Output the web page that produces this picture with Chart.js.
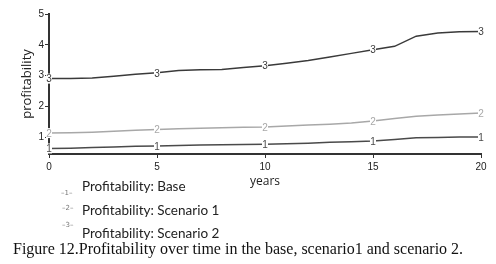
<!DOCTYPE html>
<html>
<head>
<meta charset="utf-8">
<script src="https://cdn.jsdelivr.net/npm/chart.js@4/dist/chart.umd.min.js"></script>
<style>
    body { margin: 0; background: #fff; }
    #wrap { position: relative; width: 496px; height: 264px; overflow: hidden; }
    #chartBox { position: absolute; left: 0; top: 0; width: 496px; height: 190px; }
    .leg { position: absolute; left: 82px; font: 13.5px Lato, sans-serif; color: #222; white-space: nowrap; }
    .sample { position: absolute; font: 7px "DejaVu Sans", sans-serif; color: #777; white-space: nowrap; }
    #caption { position: absolute; left: 13px; top: 240px; font: 16px "Liberation Serif", serif; color: #111; white-space: nowrap; line-height: 18px; }
</style>
</head>
<body>
<div id="wrap">
    <div id="chartBox"><canvas id="profitChart" width="496" height="190"></canvas></div>
    <div class="sample" style="left:61px; top:189px;">–1–</div>
    <div class="leg" style="top:178px;">Profitability: Base</div>
    <div class="sample" style="left:62px; top:204px;">–2–</div>
    <div class="leg" style="top:202px;">Profitability: Scenario 1</div>
    <div class="sample" style="left:62px; top:221px;">–3–</div>
    <div class="leg" style="top:225px;">Profitability: Scenario 2</div>
    <div id="caption">Figure 12.Profitability over time in the base, scenario1 and scenario 2.</div>
</div>
<script>
const years = [0, 1, 2, 3, 4, 5, 6, 7, 8, 9, 10, 11, 12, 13, 14, 15, 16, 17, 18, 19, 20];
const base = [0.63, 0.64, 0.66, 0.68, 0.70, 0.71, 0.73, 0.74, 0.75, 0.76, 0.77, 0.78, 0.80, 0.83, 0.85, 0.87, 0.92, 0.98, 0.99, 1.00, 1.00];
const scenario1 = [1.13, 1.14, 1.16, 1.19, 1.22, 1.25, 1.27, 1.29, 1.30, 1.32, 1.33, 1.36, 1.39, 1.42, 1.46, 1.52, 1.60, 1.68, 1.72, 1.75, 1.78];
const scenario2 = [2.90, 2.90, 2.92, 2.98, 3.04, 3.09, 3.16, 3.19, 3.20, 3.26, 3.32, 3.40, 3.49, 3.60, 3.72, 3.84, 3.95, 4.28, 4.38, 4.42, 4.43];
const seriesNames = ["Profitability: Base", "Profitability: Scenario 1", "Profitability: Scenario 2"];
const seriesMarks = ["1", "2", "3"];
const xTicks = [0, 5, 10, 15, 20];
const yTicks = [1, 2, 3, 4, 5];

function toPoints(values) {
    return years.map((y, i) => ({ x: y, y: values[i] }));
}

// draws the little "1", "2", "3" markers on each line every 5 years
const lineMarks = {
    id: "lineMarks",
    afterDatasetsDraw(chart) {
        const ctx = chart.ctx;
        ctx.save();
        ctx.font = "10px 'Liberation Sans', Arial, sans-serif";
        ctx.textAlign = "center";
        ctx.textBaseline = "middle";
        chart.data.datasets.forEach((ds, di) => {
            const meta = chart.getDatasetMeta(di);
            meta.data.forEach((pt, i) => {
                if (!xTicks.includes(years[i])) return;
                const w = 6;
                ctx.fillStyle = "#fff";
                ctx.fillRect(pt.x - w / 2, pt.y - 5, w, 10);
                ctx.fillStyle = ds.borderColor;
                ctx.fillText(seriesMarks[di], pt.x, pt.y + 1);
            });
        });
        ctx.restore();
    }
};

const ctx = document.getElementById("profitChart").getContext("2d");
new Chart(ctx, {
    type: "line",
    data: {
        datasets: [
            { label: seriesNames[0], data: toPoints(base), borderColor: "#4a4a4a", borderWidth: 1.5, pointRadius: 0, tension: 0 },
            { label: seriesNames[1], data: toPoints(scenario1), borderColor: "#a8a8a8", borderWidth: 1.5, pointRadius: 0, tension: 0 },
            { label: seriesNames[2], data: toPoints(scenario2), borderColor: "#3a3a3a", borderWidth: 1.5, pointRadius: 0, tension: 0 }
        ]
    },
    options: {
        responsive: false,
        animation: false,
        layout: { padding: { left: 0, right: 15, top: 14, bottom: 0 } },
        plugins: { legend: { display: false }, tooltip: { enabled: false } },
        scales: {
            x: {
                type: "linear",
                min: 0,
                max: 20,
                afterBuildTicks: s => { s.ticks = xTicks.map(v => ({ value: v })); },
                afterFit: s => { s.height = 36; },
                ticks: { font: { family: "'Liberation Sans', Arial", size: 10 }, color: "#222", padding: 3, maxRotation: 0 },
                grid: { drawOnChartArea: false, drawTicks: true, tickLength: 4, color: "#333" },
                border: { display: true, color: "#333", width: 2 },
                title: { display: true, text: "years", font: { family: "'Open Sans'", size: 12 }, color: "#222", padding: { top: 0, bottom: 1 } }
            },
            y: {
                min: 0.45,
                max: 5,
                afterBuildTicks: s => { s.ticks = yTicks.map(v => ({ value: v })); },
                afterFit: s => { s.width = 49; },
                ticks: { font: { family: "'Liberation Sans', Arial", size: 10 }, color: "#222", padding: 1 },
                grid: { drawOnChartArea: false, drawTicks: true, tickLength: 4, color: "#333" },
                border: { display: true, color: "#333", width: 2 },
                title: { display: true, text: "profitability", font: { family: "'Open Sans'", size: 13 }, color: "#222", padding: { top: 19, bottom: 0 } }
            }
        }
    },
    plugins: [lineMarks]
});
</script>
</body>
</html>
